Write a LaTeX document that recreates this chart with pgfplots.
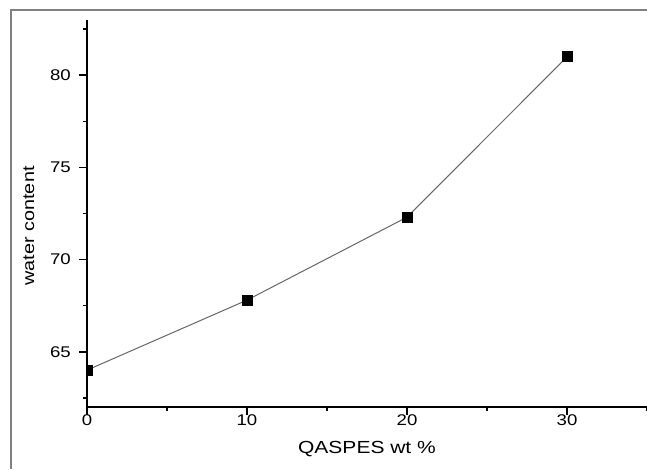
\documentclass[border=0pt]{standalone}
\usepackage{fontspec}
\setmainfont{Liberation Sans}[FakeStretch=1.2]
\usepackage{pgfplots}
\pgfplotsset{compat=1.18}
\begin{document}
\begin{tikzpicture}
\path[use as bounding box] (0,0) rectangle (647pt,469pt);
\draw[color=gray, line width=1.6pt] (11pt,0pt) -- (11pt,459pt) -- (647pt,459pt);
\begin{axis}[
  at={(87pt,62pt)}, anchor=south west,
  scale only axis, width=560pt, height=387pt,
  xmin=0, xmax=35, ymin=62, ymax=83,
  axis lines=left, axis line style={-, line width=1.6pt},
  xtick={0,10,20,30}, minor xtick={5,15,25,35},
  ytick={65,70,75,80}, minor ytick={62.5,67.5,72.5,77.5,82.5},
  tick align=outside, major tick length=8pt, minor tick length=4pt,
  every tick/.style={line width=1.6pt, black},
  clip marker paths=true,
  /pgf/number format/assume math mode=true,
  tick label style={font=\fontsize{15.5}{18}\selectfont, inner sep=0pt},
  xticklabel style={yshift=1pt},
  yticklabel style={xshift=-8pt},
  xlabel={QASPES wt \%}, ylabel={water content},
  label style={font=\fontsize{17.5}{20}\selectfont},
  xlabel style={at={(axis description cs:0.5,0)}, anchor=base, yshift=-46pt},
  ylabel style={at={(axis description cs:-0.1036,0.468)}, anchor=center, font=\fontsize{16.5}{20}\selectfont},
]
\addplot[color=black!60, line width=1pt, mark=square*, mark size=5pt,
  mark options={fill=black, draw=black, solid}]
  coordinates {(0,64.0) (10,67.8) (20,72.3) (30,81.0)};
\end{axis}
\end{tikzpicture}
\end{document}
